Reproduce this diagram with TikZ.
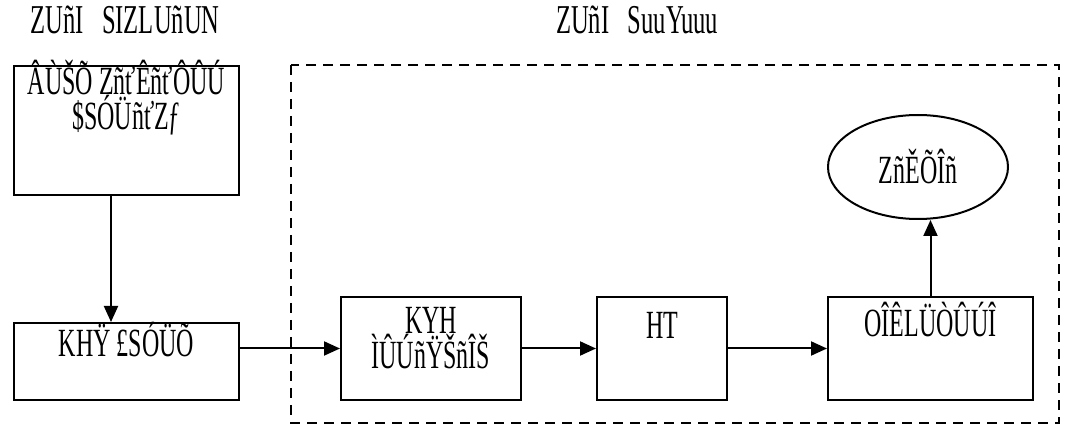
\documentclass[tikz,border=0pt]{standalone}
\usepackage{fontspec}
\setmainfont{Liberation Serif}[FakeStretch=0.6]
\usetikzlibrary{arrows.meta, shapes.geometric}
\tikzset{
  blk/.style={draw, rectangle, inner sep=0pt, align=center, anchor=north, line width=2pt,
    font=\fontsize{40pt}{34pt}\selectfont},
  oval/.style={draw, ellipse, inner sep=0pt, line width=2pt,
    minimum width=180pt, minimum height=104pt, font=\fontsize{40pt}{34pt}\selectfont},
  ttl/.style={anchor=base, inner sep=0pt, font=\fontsize{41pt}{45pt}\selectfont},
  arr/.style={line width=2pt, -{Triangle[length=16pt,width=14pt]}},
  dashbox/.style={line width=2pt, dash pattern=on 10pt off 7pt}
}
\begin{document}
\begin{tikzpicture}[x=1pt, y=-1pt]
\useasboundingbox (0,0) rectangle (1077,438);
% headings
\node[ttl] (t1) at (125,34) {ZUñI\ \ \ SIZLUñUN};
\node[ttl] (t2) at (637,34) {ZUñI\ \ \ SuuYuuu};
% left column
\node[blk, minimum width=225pt, text height=64pt, text depth=65pt] (src) at (126.5,65)
  {ÂÙŠÕ ZñťÊñťÔÛÚ\\\$SÓÜñťZƒ};
\node[blk, minimum width=225pt, text height=34pt, text depth=43pt] (inp) at (126.5,322)
  {KHŸ £SÓÜÕ};
% dashed group
\draw[dashbox] (291,65) rectangle (1059,423);
\node[blk, minimum width=180pt, text height=72pt, text depth=31pt] (pre) at (431,296)
  {KYH\\ÌÛÚñŸŠñÎŠ};
\node[blk, minimum width=130pt, text height=42pt, text depth=61pt] (ht) at (662,296)
  {HT};
\node[blk, minimum width=205pt, text height=40pt, text depth=63pt] (out) at (930.5,296)
  {OÎÊLÜÒÛÚÎ};
\node[oval] (res) at (918,167) {ZñĚÕÎñ};
% connectors
\draw[arr] ([xshift=-15.5pt]src.south) -- ([xshift=-15.5pt]inp.north);
\draw[arr] (inp.east |- pre.center) -- (pre.west);
\draw[arr] (pre) -- (ht);
\draw[arr] (ht) -- (out);
\draw[arr] (out.north) -- (out.north |- res.south);
\end{tikzpicture}
\end{document}
